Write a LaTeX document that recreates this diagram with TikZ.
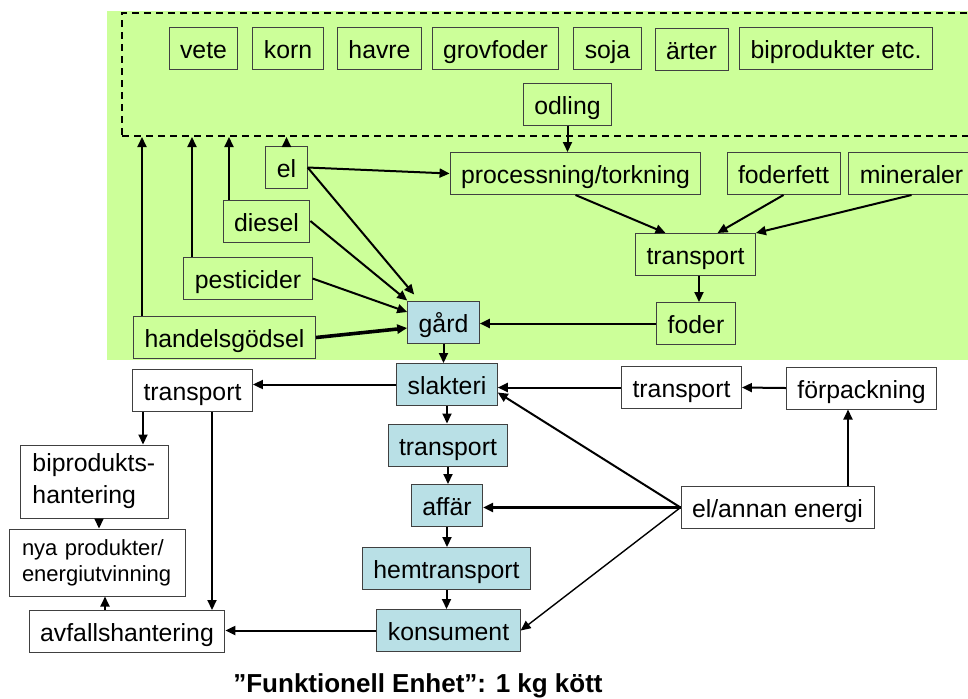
\documentclass[tikz,border=0pt]{standalone}
\usepackage{fontspec}
\setmainfont{Liberation Sans}
\usetikzlibrary{arrows.meta}
\definecolor{odlgron}{RGB}{204,255,153}
\definecolor{kedjebla}{RGB}{185,224,230}

\begin{document}
\begin{tikzpicture}[x=0.5pt, y=-0.5pt,
    box/.style={draw=black!75, line width=0.5pt, inner xsep=5.5pt, inner ysep=0pt,
      text height=10.5pt, text depth=0.5pt,
      minimum height=21pt, font=\fontsize{12.4}{16}\selectfont},
    tvarad/.style={box, align=left, text height=, text depth=},
    kedja/.style={box, fill=kedjebla},
    pil/.style={line width=1pt, -{Triangle[length=5pt,width=4.5pt]}},
    tjock/.style={pil, line width=1.8pt}]
  \useasboundingbox (0,0) rectangle (968,698);
  \fill[odlgron] (107,11) rectangle (968,360);
  \node[draw, dashed, line width=1pt, dash pattern=on 3.5pt off 2.5pt,
    minimum width=426.5pt, minimum height=61.5pt, inner sep=0pt] (odlram) at (548.5,74.5) {};

  \node[box] (vete) at (203.5,48) {vete};
  \node[box] (korn) at (288,48) {korn};
  \node[box] (havre) at (379.5,48) {havre};
  \node[box] (grovfoder) at (495.5,48) {grovfoder};
  \node[box] (soja) at (607.5,48.5) {soja};
  \node[box] (arter) at (691.5,49) {ärter};
  \node[box] (biprod) at (836,48) {biprodukter etc.};
  \node[box] (odling) at (567.5,104) {odling};

  \node[box] (process) at (575.5,173.5) {processning/torkning};
  \node[box] (foderfett) at (783.5,173.5) {foderfett};
  \node[box] (mineraler) at (911.5,173.5) {mineraler};
  \node[box] (trfoder) at (695.5,254.5) {transport};
  \node[box] (foder) at (696,323.5) {foder};

  \node[box] (el) at (286.5,167.5) {el};
  \node[box] (diesel) at (266.5,221) {diesel};
  \node[box] (pest) at (248,278.5) {pesticider};
  \node[box] (handel) at (224.5,337.5) {handelsgödsel};

  \node[kedja] (gard) at (443.5,322) {gård};
  \node[kedja] (slakteri) at (447,384.5) {slakteri};
  \node[kedja] (trbla) at (448,445) {transport};
  \node[kedja] (affar) at (447,505.5) {affär};
  \node[kedja] (hemtr) at (446.5,568.5) {hemtransport};
  \node[kedja] (konsument) at (448.5,630.5) {konsument};

  \node[box] (trvanster) at (192.5,390.5) {transport};
  \node[tvarad, text width=62pt, inner xsep=6pt, minimum height=36.5pt] (biphant) at (94.5,481.5) {biprodukts-\\hantering};
  \node[tvarad, text width=75pt, inner xsep=6.5pt, minimum height=33.5pt,
    font=\fontsize{11}{13}\selectfont] (nya) at (97,562.5) {nya produkter/\\energiutvinning};
  \node[box] (avfall) at (127,631.5) {avfallshantering};

  \node[box] (trhoger) at (681.5,387.5) {transport};
  \node[box] (forp) at (861.5,388) {förpackning};
  \node[box] (energi) at (777.5,507.5) {el/annan energi};

  \node[font=\bfseries\fontsize{13}{15}\selectfont] (enhet) at (418,686) {”Funktionell Enhet”: 1 kg kött};

  \draw[pil] (el.north) -- (el.north |- odlram.south);
  \draw[pil] ([xshift=-18.75pt]diesel.north) -- ([xshift=-18.75pt]diesel.north |- odlram.south);
  \draw[pil] ([xshift=-28pt]pest.north) -- ([xshift=-28pt]pest.north |- odlram.south);
  \draw[pil] ([xshift=-41.25pt]handel.north) -- ([xshift=-41.25pt]handel.north |- odlram.south);
  \draw[pil] (odling.south) -- (odling.south |- process.north);
  \draw[pil] (el.east) -- (process.west);
  \draw[pil] (el.east) -- ([xshift=3.5pt,yshift=3pt]gard.north west);
  \draw[pil] (diesel.east) -- (gard.north west);
  \draw[pil] (pest.east) -- ([yshift=5pt]gard.west);
  \draw[tjock] (handel.east) -- ([yshift=-3pt]gard.west);
  \draw[pil] (process.south) -- ([xshift=-15pt]trfoder.north);
  \draw[pil] (foderfett.south) -- ([xshift=11pt]trfoder.north);
  \draw[pil] (mineraler.south) -- (trfoder.north east);
  \draw[pil] ([xshift=1.75pt]trfoder.south) -- ([xshift=1.75pt]trfoder.south |- foder.north);
  \draw[pil] (foder.west) -- (foder.west -| gard.east);

  \draw[pil] (gard.south) -- (gard.south |- slakteri.north);
  \draw[pil] (slakteri.south) -- (slakteri.south |- trbla.north);
  \draw[pil] (trbla.south) -- (trbla.south |- affar.north);
  \draw[pil] (affar.south) -- (affar.south |- hemtr.north);
  \draw[pil] (hemtr.south) -- (hemtr.south |- konsument.north);

  \draw[pil] (slakteri.west) -- (slakteri.west -| trvanster.east);
  \draw[pil] ([xshift=-24.75pt]trvanster.south) -- ([xshift=-24.75pt]trvanster.south |- biphant.north);
  \draw[pil] ([xshift=9.75pt]trvanster.south) -- ([xshift=9.75pt]trvanster.south |- avfall.north);
  \draw[pil] ([xshift=2.25pt]biphant.south) -- ([xshift=2.25pt]biphant.south |- nya.north);
  \draw[pil] ([xshift=-11pt]avfall.north) -- ([xshift=-11pt]avfall.north |- nya.south);
  \draw[pil] (konsument.west) -- (konsument.west -| avfall.east);

  \draw[pil] (forp.west) -- (trhoger.east);
  \draw[pil] (trhoger.west) -- (trhoger.west -| slakteri.east);
  \draw[pil] ([xshift=-6.75pt]forp.south |- energi.north) -- ([xshift=-6.75pt]forp.south);
  \draw[pil] (energi.west) -- ([yshift=-4pt]slakteri.east);
  \draw[tjock] (energi.west) -- (energi.west -| affar.east);
  \draw[pil, line width=0.7pt] (energi.west) -- (konsument.east);
\end{tikzpicture}
\end{document}
